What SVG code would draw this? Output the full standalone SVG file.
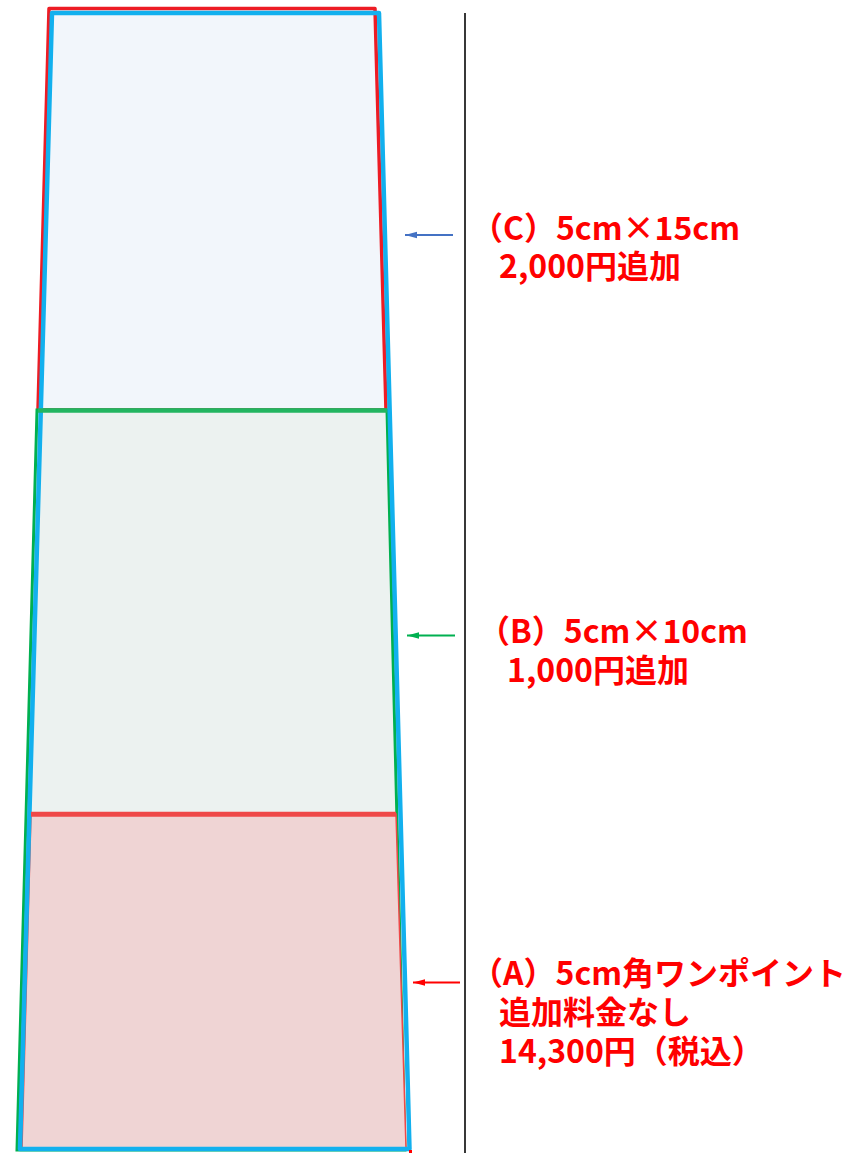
<svg xmlns="http://www.w3.org/2000/svg" width="846" height="1153" viewBox="0 0 846 1153">
<style>
.lbl{font-family:"Noto Sans CJK JP","Noto Sans",sans-serif;font-weight:bold;font-size:32px;fill:#ff0000}
</style>
<defs>
<marker id="ahB" markerWidth="12" markerHeight="8" refX="12" refY="4" orient="auto" markerUnits="userSpaceOnUse"><path d="M12,4 L0,0.8 L0,7.2 Z" fill="#4472c4"/></marker>
<marker id="ahG" markerWidth="12" markerHeight="8" refX="12" refY="4" orient="auto" markerUnits="userSpaceOnUse"><path d="M12,4 L0,0.8 L0,7.2 Z" fill="#00b050"/></marker>
<marker id="ahR" markerWidth="12" markerHeight="8" refX="12" refY="4" orient="auto" markerUnits="userSpaceOnUse"><path d="M12,4 L0,0.8 L0,7.2 Z" fill="#ff0000"/></marker>
</defs>
<rect width="846" height="1153" fill="#ffffff"/>
<g id="regionC">
<polygon points="49,8.5 375,8.5 386,410 38,410" fill="#f2f6fb" stroke="#ed1c24" stroke-width="3.5" stroke-linejoin="round"/>
</g>
<g id="regionB">
<polygon points="37,410 387,410 405,1150 17,1150" fill="#ecf2f0" stroke="#00b050" stroke-width="3"/>
</g>
<g id="regionA">
<polygon points="31,814 396,814 406,1148 22,1148" fill="#efd4d4" stroke="#ef4848" stroke-width="1.5"/>
</g>
<g id="outline">
<polygon points="52,13 379,13 409.5,1149 20,1149" fill="none" stroke="#12b0ee" stroke-width="4.5" stroke-linejoin="round"/>
<line x1="38" y1="410.5" x2="387" y2="410.5" stroke="#22b560" stroke-width="4.5"/>
<line x1="31" y1="814.3" x2="396" y2="814.3" stroke="#ef4848" stroke-width="5"/>
<rect x="409" y="1150" width="3" height="3" fill="#ff0000"/>
</g>
<g id="divider">
<line x1="465" y1="13" x2="465" y2="1153" stroke="#222222" stroke-width="1.8"/>
</g>
<g id="connectors">
<line x1="453" y1="235" x2="405" y2="235" stroke="#4472c4" stroke-width="1.8" marker-end="url(#ahB)"/>
<line x1="455" y1="635.5" x2="407" y2="635.5" stroke="#00b050" stroke-width="1.8" marker-end="url(#ahG)"/>
<line x1="460" y1="982.5" x2="413" y2="982.5" stroke="#ff0000" stroke-width="1.8" marker-end="url(#ahR)"/>
</g>
<g id="labelC">
<text class="lbl" x="471" y="240">（C）5cm×15cm</text>
<text class="lbl" x="499" y="278">2,000円追加</text>
</g>
<g id="labelB">
<text class="lbl" x="478" y="643">（B）5cm×10cm</text>
<text class="lbl" x="507" y="682">1,000円追加</text>
</g>
<g id="labelA">
<text class="lbl" x="471" y="985">（A）5cm角ワンポイント</text>
<text class="lbl" x="499" y="1024">追加料金なし</text>
<text class="lbl" x="499" y="1063">14,300円（税込）</text>
</g>
</svg>
